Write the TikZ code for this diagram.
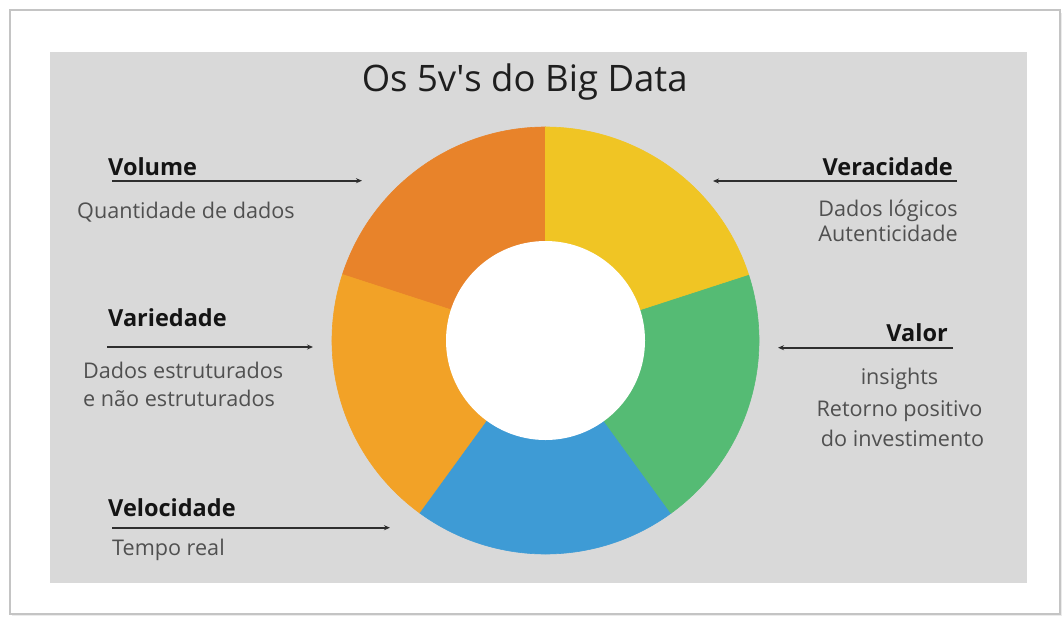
\documentclass[tikz,border=0pt]{standalone}
\usepackage{fontspec}
\setmainfont{Open Sans}
\usetikzlibrary{arrows.meta}
\definecolor{bgc}{HTML}{D9D9D9}
\definecolor{framec}{HTML}{C4C4C4}
\definecolor{volc}{HTML}{E8832A}
\definecolor{varc}{HTML}{F2A227}
\definecolor{velc}{HTML}{3E9BD5}
\definecolor{valc}{HTML}{55BB74}
\definecolor{verc}{HTML}{F0C524}
\definecolor{labc}{HTML}{141414}
\definecolor{descc}{HTML}{505050}
\definecolor{titc}{HTML}{1E1E1E}
\definecolor{arrc}{HTML}{2E2E2E}
\newcommand{\straightq}{{\XeTeXglyph\XeTeXcharglyph"0027\relax}}
\begin{document}
\begin{tikzpicture}[x=1pt,y=-1pt,
  lbl/.style={font=\fontsize{23.5}{28}\selectfont\bfseries, text=labc, inner sep=0pt},
  desc/.style={font=\fontsize{21.6}{26}\selectfont, text=descc, inner sep=0pt},
  conn/.style={draw=arrc, line width=1.6pt, -{Stealth[length=6pt,width=5pt]}},
  wedge/.style={fill=#1, draw=#1, line width=0.6pt}
  ]
\useasboundingbox (0,0) rectangle (1062,616);
% frame and panel
\fill[black!8] (12,13) rectangle (1062,616);
\draw[framec, fill=white, line width=1.5pt] (10,10) rectangle (1060,614);
\fill[bgc] (50,52) rectangle (1026.5,582.5);
% donut
\coordinate (C) at (545.5,340.5);
\def\R{213.5}
\path[wedge=volc] (C) -- ++(-90:\R) arc[start angle=-90, end angle=-162, radius=\R] -- cycle;
\path[wedge=varc] (C) -- ++(-162:\R) arc[start angle=-162, end angle=-234, radius=\R] -- cycle;
\path[wedge=velc] (C) -- ++(-234:\R) arc[start angle=-234, end angle=-306, radius=\R] -- cycle;
\path[wedge=valc] (C) -- ++(-306:\R) arc[start angle=-306, end angle=-378, radius=\R] -- cycle;
\path[wedge=verc] (C) -- ++(-18:\R) arc[start angle=-18, end angle=-90, radius=\R] -- cycle;
\fill[white] (C) circle[radius=99.5];
% title
\node[font=\fontsize{36.5}{42}\selectfont, text=titc, anchor=base, inner sep=0pt] (title) at (524.7,91) {Os 5v\straightq s do Big Data};
% left labels
\node[lbl, anchor=base west] (vol) at (108,175) {Volume};
\node[desc, anchor=base west] (vold) at (77,218) {Quantidade de dados};
\coordinate (vola) at (112,180.7);
\coordinate (volb) at (362,180.7);
\draw[conn] (vola) -- (volb);

\node[lbl, anchor=base west] (var) at (108,326.7) {Variedade};
\node[desc, anchor=base west] (vard1) at (83,378) {Dados estruturados};
\node[desc, anchor=base west] (vard2) at (83,406.7) {e não estruturados};
\coordinate (vara) at (107,347);
\coordinate (varb) at (313,347);
\draw[conn] (vara) -- (varb);

\node[lbl, anchor=base west] (vel) at (108,516.7) {Velocidade};
\node[desc, anchor=base west] (veld) at (112,555) {Tempo real};
\coordinate (vela) at (112,527.7);
\coordinate (velb) at (390,527.7);
\draw[conn] (vela) -- (velb);
% right labels
\node[lbl, anchor=base east] (ver) at (953,175) {Veracidade};
\node[desc, anchor=base east] (verd1) at (958,216.7) {Dados lógicos};
\node[desc, anchor=base east] (verd2) at (958,241.7) {Autenticidade};
\coordinate (vera) at (957,181);
\coordinate (verb) at (713,181);
\draw[conn] (vera) -- (verb);

\node[lbl, anchor=base east] (val) at (948,341.7) {Valor};
\node[desc, anchor=base] (vald1) at (899.5,384) {insights};
\node[desc, anchor=base] (vald2) at (899.5,416.7) {Retorno positivo};
\node[desc, anchor=base] (vald3) at (902.5,446.7) {do investimento};
\coordinate (vala) at (953,347.7);
\coordinate (valb) at (778,347.7);
\draw[conn] (vala) -- (valb);
\end{tikzpicture}
\end{document}
